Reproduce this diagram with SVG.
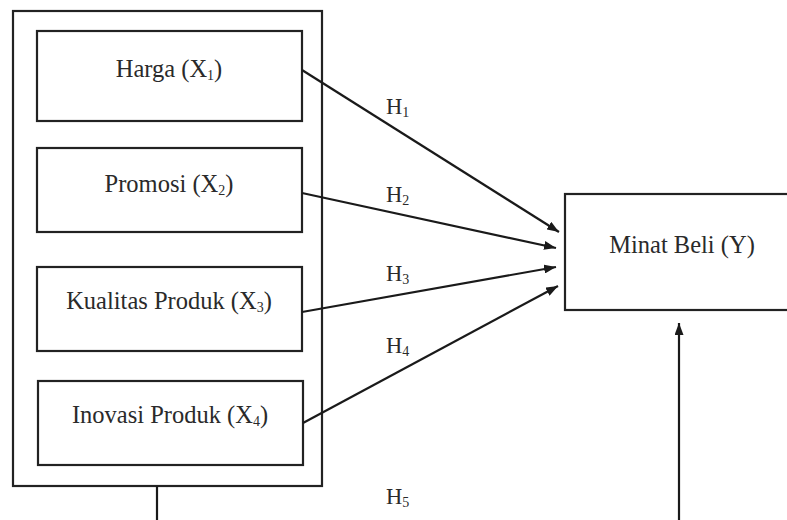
<svg xmlns="http://www.w3.org/2000/svg" width="787" height="520" viewBox="0 0 787 520">
<defs>
<style>
.box{fill:#fff;stroke:#222;stroke-width:2.2}
.t{font-family:"Liberation Serif","Times New Roman",serif;font-size:24.5px;fill:#2a2a2a;text-anchor:middle}
.h{font-family:"Liberation Serif","Times New Roman",serif;font-size:22.5px;fill:#2a2a2a}
.sub{font-size:14px}
.c{stroke:#1a1a1a;stroke-width:2.2;fill:none}
</style>
<marker id="ah" viewBox="0 0 12 9" refX="12" refY="4.5" markerWidth="12" markerHeight="9" markerUnits="userSpaceOnUse" orient="auto">
<path d="M0,0 L12,4.5 L0,9 Z" fill="#1a1a1a"/>
</marker>
</defs>
<rect width="787" height="520" fill="#fff"/>
<g id="group">
<rect class="box" x="13" y="11" width="309" height="475"/>
</g>
<g id="x1">
<rect class="box" x="37" y="31" width="265" height="90"/>
<text class="t" x="169" y="77">Harga (X<tspan class="sub" dy="3">1</tspan><tspan dy="-3">)</tspan></text>
</g>
<g id="x2">
<rect class="box" x="37" y="148" width="265" height="84"/>
<text class="t" x="169" y="192">Promosi (X<tspan class="sub" dy="3">2</tspan><tspan dy="-3">)</tspan></text>
</g>
<g id="x3">
<rect class="box" x="37" y="267" width="265" height="84"/>
<text class="t" x="169" y="309">Kualitas Produk (X<tspan class="sub" dy="3">3</tspan><tspan dy="-3">)</tspan></text>
</g>
<g id="x4">
<rect class="box" x="38" y="381" width="265" height="84"/>
<text class="t" x="170" y="423">Inovasi Produk (X<tspan class="sub" dy="3">4</tspan><tspan dy="-3">)</tspan></text>
</g>
<g id="y">
<rect class="box" x="565" y="194" width="230" height="116"/>
<text class="t" x="682" y="253">Minat Beli (Y)</text>
</g>
<g id="connectors">
<line class="c" x1="302" y1="70" x2="559" y2="232" marker-end="url(#ah)"/>
<line class="c" x1="302" y1="193" x2="556" y2="248" marker-end="url(#ah)"/>
<line class="c" x1="302" y1="312" x2="556" y2="267" marker-end="url(#ah)"/>
<line class="c" x1="303" y1="423" x2="558" y2="286" marker-end="url(#ah)"/>
<line class="c" x1="157" y1="486" x2="157" y2="522"/>
<line class="c" x1="679" y1="522" x2="679" y2="323" marker-end="url(#ah)"/>
</g>
<g id="labels">
<text class="h" x="386" y="114">H<tspan class="sub" dy="3">1</tspan></text>
<text class="h" x="386" y="202">H<tspan class="sub" dy="3">2</tspan></text>
<text class="h" x="386" y="281">H<tspan class="sub" dy="3">3</tspan></text>
<text class="h" x="386" y="353">H<tspan class="sub" dy="3">4</tspan></text>
<text class="h" x="386" y="504">H<tspan class="sub" dy="3">5</tspan></text>
</g>
</svg>
